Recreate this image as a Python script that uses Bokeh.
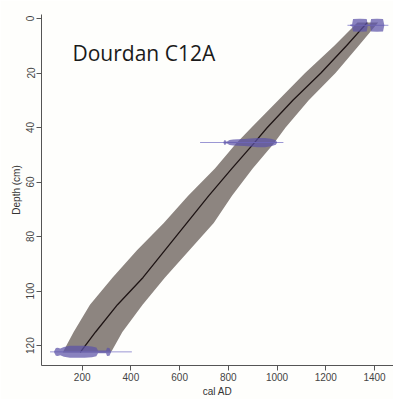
from bokeh.plotting import figure
from bokeh.models import Range1d, FixedTicker, Label
from bokeh.embed import file_html
from bokeh.resources import INLINE

# Age-depth model (depth in cm, cal AD)
model_depth = [1.5, 10, 20, 30, 40, 46, 55, 65, 75, 85, 95, 105, 115, 122.5]
model_median = [1370, 1285, 1180, 1065, 960, 903, 815, 720, 630, 540, 450, 345, 255, 192]
model_lower = [1330, 1235, 1115, 1005, 895, 830, 745, 635, 535, 425, 325, 232, 165, 120]
model_upper = [1415, 1335, 1240, 1130, 1035, 985, 900, 815, 740, 640, 540, 448, 365, 318]

# Calibrated date distributions (year, half-height in cm)
date_depths = [2.5, 45.5, 122.3]
date_min = [1289, 684, 68]
date_max = [1457, 1026, 404]

top_years = [1300, 1308, 1312, 1340, 1368, 1372, 1382, 1386, 1410, 1435, 1440]
top_h = [0.2, 0.4, 2.3, 2.4, 2.3, 0.3, 0.3, 2.3, 2.4, 2.3, 0.2]
mid_years = [780, 783, 788, 793, 805, 820, 840, 865, 890, 920, 950, 975, 995, 1000]
mid_h = [0.1, 0.8, 0.8, 0.3, 0.9, 1.1, 1.2, 1.3, 1.5, 1.7, 1.7, 1.4, 0.8, 0.1]
bot_years = [85, 92, 100, 110, 125, 150, 180, 210, 240, 258, 265, 298, 302, 312, 318]
bot_h = [0.2, 1.4, 1.5, 1.2, 1.8, 2.2, 2.2, 2.2, 2.0, 1.6, 0.5, 0.5, 1.5, 1.4, 0.2]

x_ticks = [200, 400, 600, 800, 1000, 1200, 1400]
y_ticks = [0, 20, 40, 60, 80, 100, 120]

p = figure(width=393, height=399, output_backend="svg", toolbar_location=None,
           x_range=Range1d(33, 1478), y_range=Range1d(127.3, -1.46),
           min_border_left=41, min_border_right=0, min_border_top=14, min_border_bottom=33)
p.outline_line_color = None
p.xgrid.grid_line_color = None
p.ygrid.grid_line_color = None
p.background_fill_color = "#fefefc"
p.border_fill_color = "#fefefc"

# Model band and median
p.harea(y=model_depth, x1=model_lower, x2=model_upper, fill_color="#8d8580", fill_alpha=1)
p.line(model_median, model_depth, line_color="#1e1414", line_width=1.3)

# Dates
purple = "#5b52a8"
for d, lo, hi in zip(date_depths, date_min, date_max):
    p.segment(x0=[lo], y0=[d], x1=[hi], y1=[d], line_color="#9b97d4", line_width=1)
for yrs, hh, d in [(top_years, top_h, date_depths[0]),
                   (mid_years, mid_h, date_depths[1]),
                   (bot_years, bot_h, date_depths[2])]:
    p.varea(x=yrs, y1=[d - h for h in hh], y2=[d + h for h in hh],
            fill_color=purple, fill_alpha=0.72)

# Axes
for ax in (p.xaxis[0], p.yaxis[0]):
    ax.axis_line_color = "#555555"
    ax.major_tick_line_color = "#555555"
    ax.minor_tick_line_color = None
    ax.major_tick_in = 0
    ax.major_tick_out = 5
    ax.major_label_text_font = "Liberation Sans"
    ax.major_label_text_font_size = "10px"
    ax.major_label_text_color = "#444444"
    ax.major_label_standoff = 2
    ax.axis_label_text_font = "Liberation Sans"
    ax.axis_label_text_font_size = "10px"
    ax.axis_label_text_font_style = "normal"
    ax.axis_label_text_color = "#333333"
    ax.axis_label_standoff = 2

p.xaxis.ticker = FixedTicker(ticks=x_ticks)
p.yaxis.ticker = FixedTicker(ticks=y_ticks)
p.xaxis.axis_label = "cal AD"
p.yaxis.axis_label = "Depth (cm)"
p.yaxis.major_label_orientation = "vertical"

p.add_layout(Label(x=31, y=313, x_units="screen", y_units="screen", text="Dourdan C12A",
                   text_font="Open Sans", text_font_size="21px", text_color="#1a1a1a",
                   text_baseline="alphabetic"))

open("out.html", "w").write(file_html(p, INLINE))
